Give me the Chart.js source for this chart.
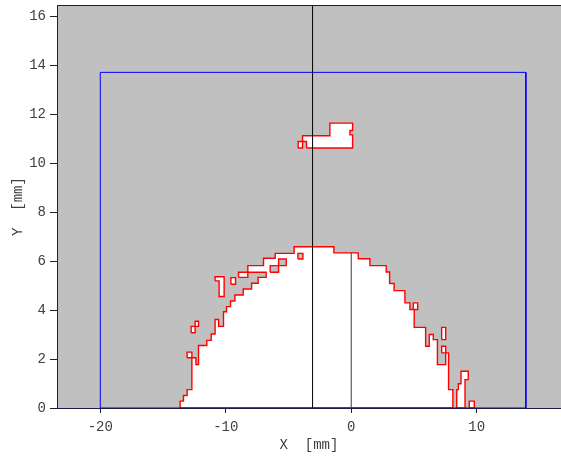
<!DOCTYPE html>
<html>
<head>
<meta charset="utf-8">
<title>Cross-section contour</title>
<script src="https://cdn.jsdelivr.net/npm/chart.js@4.4.1/dist/chart.umd.min.js"></script>
<style>
  html, body { margin: 0; padding: 0; background: #ffffff; overflow: hidden; }
  canvas { display: block; }
</style>
</head>
<body>
<canvas id="chart" width="561" height="459"></canvas>
<script>
// Axis ticks (mm)
const xTicks = [-20, -10, 0, 10];
const yTicks = [0, 2, 4, 6, 8, 10, 12, 14, 16];
const xRange = [-23.45, 16.72];
const yRange = [0, 16.45];

// Main cross-section outline [x, y] in mm
const mainContour = [
  [-13.64, 0], [-13.64, 0.28], [-13.37, 0.28], [-13.37, 0.51], [-13.08, 0.51],
  [-13.08, 0.75], [-12.70, 0.75], [-12.70, 2.05], [-12.38, 2.05], [-12.38, 1.77],
  [-12.17, 1.77], [-12.17, 2.55], [-11.51, 2.55], [-11.51, 2.76], [-11.16, 2.76],
  [-11.16, 3.02], [-10.85, 3.02], [-10.85, 3.61], [-10.57, 3.61], [-10.57, 3.33],
  [-10.18, 3.33], [-10.18, 3.93], [-9.94, 3.93], [-9.94, 4.14], [-9.62, 4.14],
  [-9.62, 4.37], [-9.27, 4.37], [-9.27, 4.61], [-8.61, 4.61], [-8.61, 4.86],
  [-7.94, 4.86], [-7.94, 5.09], [-7.42, 5.09], [-7.42, 5.33], [-6.78, 5.33],
  [-6.78, 5.54], [-8.24, 5.54], [-8.24, 5.81], [-6.99, 5.81], [-6.99, 6.11],
  [-6.06, 6.11], [-6.06, 6.31], [-4.55, 6.31], [-4.55, 6.58], [-1.38, 6.58],
  [-1.38, 6.33], [0.56, 6.33], [0.56, 6.09], [1.49, 6.09], [1.49, 5.81],
  [2.79, 5.81], [2.79, 5.55], [3.06, 5.55], [3.06, 5.08], [3.42, 5.08],
  [3.42, 4.79], [4.28, 4.79], [4.28, 4.29], [4.68, 4.29], [4.68, 4.02],
  [5.02, 4.02], [5.02, 3.29], [5.93, 3.29], [5.93, 2.52], [6.22, 2.52],
  [6.22, 3.00], [6.54, 3.00], [6.54, 2.79], [6.87, 2.79], [6.87, 1.77],
  [7.53, 1.77], [7.53, 2.25], [7.76, 2.25], [7.76, 0.75], [8.10, 0.75],
  [8.10, 0]
];

// Separate filled regions next to the main outline
const sideContour = [
  [8.41, 0], [8.41, 0.75], [8.54, 0.75], [8.54, 0.99], [8.75, 0.99],
  [8.75, 1.50], [9.33, 1.50], [9.33, 1.16], [9.07, 1.16], [9.07, 0]
];
const hookContour = [
  [-10.85, 5.19], [-10.85, 5.36], [-10.13, 5.36], [-10.13, 4.55],
  [-10.53, 4.55], [-10.53, 5.19]
];
const upperContour = [
  [-3.56, 10.61], [-3.56, 10.88], [-3.88, 10.88], [-3.88, 11.11], [-1.70, 11.11],
  [-1.70, 11.63], [0.11, 11.63], [0.11, 11.33], [-0.10, 11.33], [-0.10, 11.15],
  [0.11, 11.15], [0.11, 10.61]
];

// Small filled cells [xMin, xMax, yMin, yMax] in mm
const filledCells = [
  [-13.08, -12.70, 2.05, 2.28],
  [-12.76, -12.44, 3.07, 3.33],
  [-12.44, -12.17, 3.33, 3.54],
  [-9.59, -9.22, 5.05, 5.32],
  [-8.98, -8.24, 5.33, 5.54],
  [4.95, 5.30, 4.02, 4.29],
  [7.21, 7.53, 2.79, 3.29],
  [7.21, 7.53, 2.25, 2.52],
  [9.41, 9.81, 0, 0.28],
  [-4.23, -3.88, 10.61, 10.88]
];

// Empty cells inside the main outline [xMin, xMax, yMin, yMax] in mm
const emptyCells = [
  [-6.46, -5.79, 5.54, 5.81],
  [-5.79, -5.18, 5.81, 6.08],
  [-4.25, -3.85, 6.08, 6.31]
];

// Window frame [xMin, xMax, yMin, yMax] in mm
const frameBox = [-20, 13.92, 0, 13.7];

// Reference lines
const cutX = -3.08;
const centerX = 0;
const centerTopY = 6.33;

const RED = '#ff0000';
const FILL_IN = '#ffffff';
const FILL_OUT = '#c0c0c0';

function toPoints(list) {
  return list.concat([list[0]]).map(([x, y]) => ({ x, y }));
}
function cellToList([x0, x1, y0, y1]) {
  return [[x0, y0], [x0, y1], [x1, y1], [x1, y0]];
}
function region(list, fillColor, order) {
  return {
    data: toPoints(list),
    borderColor: RED,
    borderWidth: 1.4,
    backgroundColor: fillColor,
    fill: 'shape',
    pointRadius: 0,
    order
  };
}

const datasets = [];
datasets.push(region(mainContour, FILL_IN, 50));
datasets.push(region(sideContour, FILL_IN, 45));
datasets.push(region(hookContour, FILL_IN, 45));
datasets.push(region(upperContour, FILL_IN, 45));
filledCells.forEach(c => datasets.push(region(cellToList(c), FILL_IN, 44)));
emptyCells.forEach(c => datasets.push(region(cellToList(c), FILL_OUT, 40)));
datasets.push({
  data: toPoints(cellToList(frameBox)),
  borderColor: '#0000ff', borderWidth: 1, fill: false, pointRadius: 0, order: 20
});
datasets.push({
  data: [{ x: centerX, y: 0 }, { x: centerX, y: centerTopY }],
  borderColor: '#3a3a3a', borderWidth: 1, fill: false, pointRadius: 0, order: 12
});
datasets.push({
  data: [{ x: cutX, y: yRange[0] }, { x: cutX, y: yRange[1] }],
  borderColor: '#000000', borderWidth: 1, fill: false, pointRadius: 0, order: 10
});

const axisFont = { family: "'Liberation Mono', 'DejaVu Sans Mono', monospace", size: 14 };
const textColor = '#404040';

const plotBackground = {
  id: 'plotBackground',
  beforeDraw(chart) {
    const { ctx, chartArea: a } = chart;
    ctx.save();
    ctx.fillStyle = '#ffffff';
    ctx.fillRect(0, 0, chart.width, chart.height);
    ctx.fillStyle = FILL_OUT;
    ctx.fillRect(a.left, a.top, a.right - a.left, a.bottom - a.top);
    ctx.restore();
  },
  afterDraw(chart) {
    const { ctx, chartArea: a } = chart;
    ctx.save();
    ctx.strokeStyle = '#222222';
    ctx.lineWidth = 1;
    ctx.beginPath();
    ctx.moveTo(a.left, a.top + 0.5);
    ctx.lineTo(a.right, a.top + 0.5);
    ctx.stroke();
    ctx.restore();
  }
};

new Chart(document.getElementById('chart'), {
  type: 'line',
  data: { datasets },
  options: {
    responsive: false,
    animation: false,
    events: [],
    layout: { padding: { top: 5, right: 0, left: 0, bottom: 0 } },
    plugins: { legend: { display: false }, tooltip: { enabled: false } },
    elements: { line: { tension: 0 }, point: { radius: 0 } },
    scales: {
      x: {
        type: 'linear',
        min: xRange[0],
        max: xRange[1],
        afterBuildTicks: s => { s.ticks = xTicks.map(v => ({ value: v })); },
        afterFit: s => { s.height = 51; s.paddingLeft = 0; s.paddingRight = 0; },
        grid: { drawOnChartArea: false, drawTicks: true, tickLength: 5, color: '#222222' },
        border: { color: '#1c1c50', width: 1 },
        ticks: { font: axisFont, color: textColor, padding: 6, maxRotation: 0, autoSkip: false },
        title: { display: true, text: 'X  [mm]', font: axisFont, color: textColor, padding: { top: 0, bottom: 5 } }
      },
      y: {
        type: 'linear',
        min: yRange[0],
        max: yRange[1],
        afterBuildTicks: s => { s.ticks = yTicks.map(v => ({ value: v })); },
        afterFit: s => { s.width = 57; s.paddingTop = 0; s.paddingBottom = 0; },
        grid: { drawOnChartArea: false, drawTicks: true, tickLength: 7, color: '#222222' },
        border: { color: '#222222', width: 1 },
        ticks: { font: axisFont, color: textColor, padding: 4, autoSkip: false },
        title: { display: true, text: 'Y  [mm]', font: axisFont, color: textColor, padding: { top: 10, bottom: 0 } }
      }
    }
  },
  plugins: [plotBackground]
});
</script>
</body>
</html>
